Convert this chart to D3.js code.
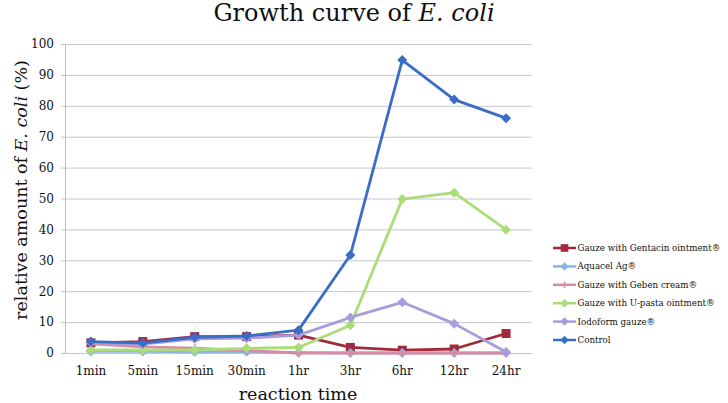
<!DOCTYPE html>
<html>
<head>
<meta charset="utf-8">
<script src="https://cdn.jsdelivr.net/npm/d3@7"></script>
<style>
  html, body { margin: 0; padding: 0; background: #fff; }
  svg { display: block; font-family: "DejaVu Serif", serif; }
</style>
</head>
<body>
<svg id="chart" width="728" height="403"></svg>
<script>
const categories = ["1min", "5min", "15min", "30min", "1hr", "3hr", "6hr", "12hr", "24hr"];
const yTicks = [0, 10, 20, 30, 40, 50, 60, 70, 80, 90, 100];

const gentacin = [3.3, 3.7, 5.3, 5.3, 5.8, 1.8, 0.9, 1.3, 6.3];
const aquacel  = [0.5, 0.5, 0.4, 0.4, 0.1, 0.0, 0.0, 0.0, 0.0];
const geben    = [3.0, 2.0, 1.6, 0.8, 0.0, 0.0, 0.0, 0.0, 0.0];
const upasta   = [1.0, 1.0, 1.0, 1.5, 1.8, 9.0, 49.8, 51.9, 39.9];
const iodoform = [3.4, 2.9, 4.6, 4.8, 5.8, 11.5, 16.4, 9.5, 0.3];
const control  = [3.7, 3.2, 5.1, 5.5, 7.4, 31.7, 94.8, 82.0, 76.0];

const seriesNames = ["Gauze with Gentacin ointment®", "Aquacel Ag®", "Gauze with Geben cream®",
                     "Gauze with U-pasta ointment®", "Iodoform gauze®", "Control"];
const seriesValues = [gentacin, aquacel, geben, upasta, iodoform, control];
const seriesColors = ["#A22B3A", "#8DB4E2", "#D98BA5", "#A9DD78", "#A89CDB", "#3A6DC6"];
const seriesMarkers = ["square", "diamond", "plus", "diamond", "diamond", "diamond"];

const svg = d3.select("#chart");
const L = 65, R = 532, T = 44, B = 353;

const x = d3.scaleBand().domain(categories).range([L, R]);
const y = d3.scaleLinear().domain([0, 100]).range([B, T]);

// gridlines
svg.append("g").selectAll("line").data(yTicks).join("line")
  .attr("x1", L - 4).attr("x2", R)
  .attr("y1", d => y(d) + 0.5).attr("y2", d => y(d) + 0.5)
  .attr("stroke", "#C4C8CA").attr("stroke-width", 1);

// y axis line
svg.append("line").attr("x1", L + 0.5).attr("x2", L + 0.5)
  .attr("y1", T).attr("y2", B + 1).attr("stroke", "#B9BDBF").attr("stroke-width", 1);

// y tick labels
svg.append("g").selectAll("text").data(yTicks).join("text")
  .attr("x", 54).attr("y", d => y(d)).attr("dy", "0.36em")
  .attr("text-anchor", "end").attr("font-size", 12).attr("fill", "#111")
  .text(d => d);

// x tick labels
svg.append("g").selectAll("text").data(categories).join("text")
  .attr("x", d => x(d) + x.bandwidth() / 2).attr("y", 375)
  .attr("text-anchor", "middle").attr("font-size", 12).attr("fill", "#111")
  .text(d => d);

const line = d3.line().x((d, i) => x(categories[i]) + x.bandwidth() / 2).y(d => y(d));

function drawMarker(g, type, cx, cy, color, k) {
  k = k || 1;
  if (type === "square") {
    const s = 4.5 * k;
    g.append("rect").attr("x", cx - s).attr("y", cy - s).attr("width", 2 * s).attr("height", 2 * s)
      .attr("fill", color);
  } else if (type === "diamond") {
    const s = 5 * k;
    g.append("path").attr("d", `M${cx},${cy - s}L${cx + s},${cy}L${cx},${cy + s}L${cx - s},${cy}Z`)
      .attr("fill", color);
  } else if (type === "plus") {
    const s = 4 * k;
    g.append("path").attr("d", `M${cx},${cy - s}L${cx},${cy + s}M${cx - s},${cy}L${cx + s},${cy}`)
      .attr("stroke", color).attr("stroke-width", 1.5);
  }
}

seriesValues.forEach((vals, si) => {
  const g = svg.append("g");
  g.append("path").datum(vals).attr("d", line)
    .attr("fill", "none").attr("stroke", seriesColors[si]).attr("stroke-width", 2.8)
    .attr("stroke-linejoin", "round");
  vals.forEach((v, i) => {
    drawMarker(g, seriesMarkers[si], x(categories[i]) + x.bandwidth() / 2, y(v), seriesColors[si]);
  });
});

// legend
const legend = svg.append("g");
seriesNames.forEach((name, i) => {
  const ly = 248 + i * 18.4;
  legend.append("line").attr("x1", 553).attr("x2", 576).attr("y1", ly).attr("y2", ly)
    .attr("stroke", seriesColors[i]).attr("stroke-width", 2.5);
  drawMarker(legend, seriesMarkers[i], 564.5, ly, seriesColors[i], 0.85);
  legend.append("text").attr("x", 577.5).attr("y", ly).attr("dy", "0.35em")
    .attr("font-size", 8.7).attr("fill", "#111").text(name);
});

// title
const title = svg.append("text").attr("x", 354).attr("y", 21).attr("text-anchor", "middle")
  .attr("font-size", 24).attr("fill", "#111");
title.append("tspan").text("Growth curve of ");
title.append("tspan").attr("font-style", "italic").text("E. coli");

// x axis title
svg.append("text").attr("x", 298).attr("y", 400).attr("text-anchor", "middle")
  .attr("font-size", 17.5).attr("fill", "#111").text("reaction time");

// y axis title
const yt = svg.append("text").attr("transform", "translate(27,190) rotate(-90)")
  .attr("text-anchor", "middle").attr("font-size", 17.5).attr("fill", "#111");
yt.append("tspan").text("relative amount of ");
yt.append("tspan").attr("font-style", "italic").text("E. coli");
yt.append("tspan").text(" (%)");
</script>
</body>
</html>
